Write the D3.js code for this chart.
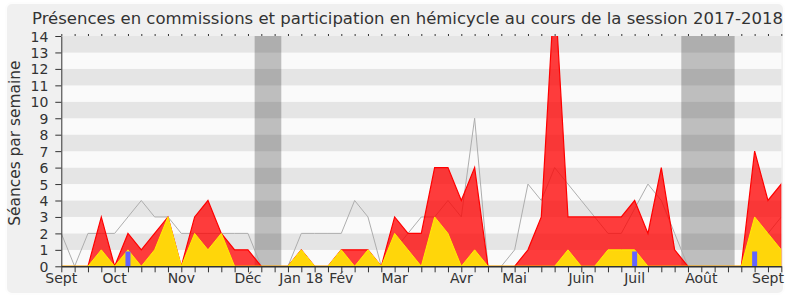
<!DOCTYPE html>
<html>
<head>
<meta charset="utf-8">
<script src="https://cdn.jsdelivr.net/npm/d3@7"></script>
<style>
  body { margin: 0; background: #ffffff; }
  text { font-family: "DejaVu Sans", sans-serif; fill: #333; }
</style>
</head>
<body>
<svg id="chart" width="790" height="300"></svg>
<script>
"use strict"

// weekly values, week 0 = first week of Sept 2017
const commissions = [0,0,0,3,0,2,1,2,3,0, 3,4,2,1,1,0,0,0,1,0, 0,1,1,1,0,3,2,2,6,6,
                     4,6,0,0,0,1,3,17,3,3, 3,3,3,4,2,6,1,0,0,0, 0,0,7,4,5]
const hemicycle   = [0,0,0,1,0,1,0,1,3,0, 2,1,2,0,0,0,0,0,1,0, 0,1,0,1,0,2,1,0,3,2,
                     0,1,0,0,0,0,0,0,1,0, 0,1,1,1,0,0,0,0,0,0, 0,0,3,2,1]
const mediane     = [2,0,2,2,2,3,4,3,3,2, 2,2,2,2,2,0,0,0,2,2, 2,2,4,3,0,1,2,3,3,4,
                     3,9,0,0,1,5,4,6,5,4, 3,2,2,3.5,5,4,2,0,0,0, 0,0,2,2,3]
const questions   = [{week: 5, value: 0.9}, {week: 43, value: 0.9}, {week: 52, value: 0.9}]
const vacances    = [[14.5, 16.5], [46.5, 50.5]]
const mois        = [["Sept",0],["Oct",4],["Nov",9],["Déc",14],["Jan 18",18],["Fév",21],
                     ["Mar",25],["Avr",30],["Mai",34],["Juin",39],["Juil",43],["Août",48],["Sept",53]]
const yMax = 14

const svg = d3.select("#chart")
const mLeft = 61.3, mRight = 781.3, mTop = 36, mBottom = 266.3

// background frame
svg.append("rect")
    .attr("x", 6).attr("y", 3).attr("width", 778).attr("height", 291)
    .attr("rx", 6)
    .attr("fill", "#f0f0f0")
    .attr("stroke", "#fdfdfd").attr("stroke-width", 2)

let x = d3.scaleLinear().domain([0, commissions.length - 1]).range([mLeft, mRight])
let y = d3.scaleLinear().domain([0, yMax]).range([mBottom, mTop])

// striped background
svg.append("g").selectAll("rect")
    .data(d3.range(0, yMax))
    .enter().append("rect")
    .attr("x", mLeft)
    .attr("width", mRight - mLeft)
    .attr("y", d => y(d + 1))
    .attr("height", d => y(d) - y(d + 1))
    .attr("fill", d => d % 2 ? "#e5e5e5" : "#fafafa")

// holidays
svg.append("g").selectAll("rect")
    .data(vacances)
    .enter().append("rect")
    .attr("x", d => x(d[0]))
    .attr("width", d => x(d[1]) - x(d[0]))
    .attr("y", mTop)
    .attr("height", mBottom - mTop)
    .attr("fill", "rgba(0,0,0,0.24)")

svg.append("clipPath").attr("id", "plot-clip")
    .append("rect")
    .attr("x", mLeft).attr("y", mTop)
    .attr("width", mRight - mLeft).attr("height", mBottom - mTop)

let plot = svg.append("g").attr("clip-path", "url(#plot-clip)")

let line = d3.line()
    .x((d, i) => x(i))
    .y(d => y(d))

let area = d3.area()
    .x((d, i) => x(i))
    .y0(y(0))
    .y1(d => y(d))

plot.append("path")
    .datum(mediane)
    .attr("d", line)
    .attr("fill", "none")
    .attr("stroke", "#adadad")
    .attr("stroke-width", 1)

plot.append("path")
    .datum(commissions)
    .attr("d", area)
    .attr("fill", "rgba(255,0,0,0.76)")
    .attr("stroke", "#ff0000")
    .attr("stroke-width", 1.2)

plot.append("path")
    .datum(hemicycle)
    .attr("d", area)
    .attr("fill", "#ffd60a")
    .attr("stroke", "#ffee00")
    .attr("stroke-width", 1)

plot.append("g").selectAll("rect")
    .data(questions)
    .enter().append("rect")
    .attr("x", d => x(d.week) - 2.5)
    .attr("width", 5)
    .attr("y", d => y(d.value))
    .attr("height", d => y(0) - y(d.value))
    .attr("fill", "#6464ff")

// axes
let weeks = d3.range(0, commissions.length)

let xAxis = svg.append("g")
    .attr("transform", "translate(0," + mBottom + ")")
    .call(d3.axisBottom(x).tickValues(weeks).tickSize(6).tickSizeOuter(0).tickFormat(""))
xAxis.selectAll("line").attr("stroke", "#333")
xAxis.select(".domain").attr("stroke", "#333").attr("stroke-width", 1.5)

svg.append("g")
    .selectAll("text")
    .data(mois)
    .enter().append("text")
    .attr("x", d => x(d[1]))
    .attr("y", mBottom + 16.5)
    .attr("text-anchor", "middle")
    .style("font-size", "14px")
    .text(d => d[0])

let xTop = svg.append("g")
    .attr("transform", "translate(0," + mTop + ")")
    .call(d3.axisTop(x).tickValues(weeks).tickSize(2).tickSizeOuter(0).tickFormat(""))
xTop.select(".domain").remove()
xTop.selectAll("line").attr("stroke", "#333")

let yAxis = svg.append("g")
    .attr("transform", "translate(" + mLeft + ",0)")
    .call(d3.axisLeft(y).ticks(yMax).tickSize(6).tickSizeOuter(0))
yAxis.select(".domain").attr("stroke", "#333")
yAxis.selectAll("line").attr("stroke", "#333")
yAxis.selectAll("text")
    .attr("x", -13)
    .attr("dy", "0.36em")
    .style("font-size", "14px")
    .attr("font-family", null)
    .attr("fill", "#333")

svg.append("text")
    .attr("transform", "translate(20," + ((mTop + mBottom) / 2 - 8) + ") rotate(-90)")
    .attr("text-anchor", "middle")
    .style("font-size", "15.4px")
    .text("Séances par semaine")

svg.append("text")
    .attr("x", 407.5)
    .attr("y", 24)
    .attr("text-anchor", "middle")
    .style("font-size", "16.5px")
    .text("Présences en commissions et participation en hémicycle au cours de la session 2017-2018")
</script>
</body>
</html>
